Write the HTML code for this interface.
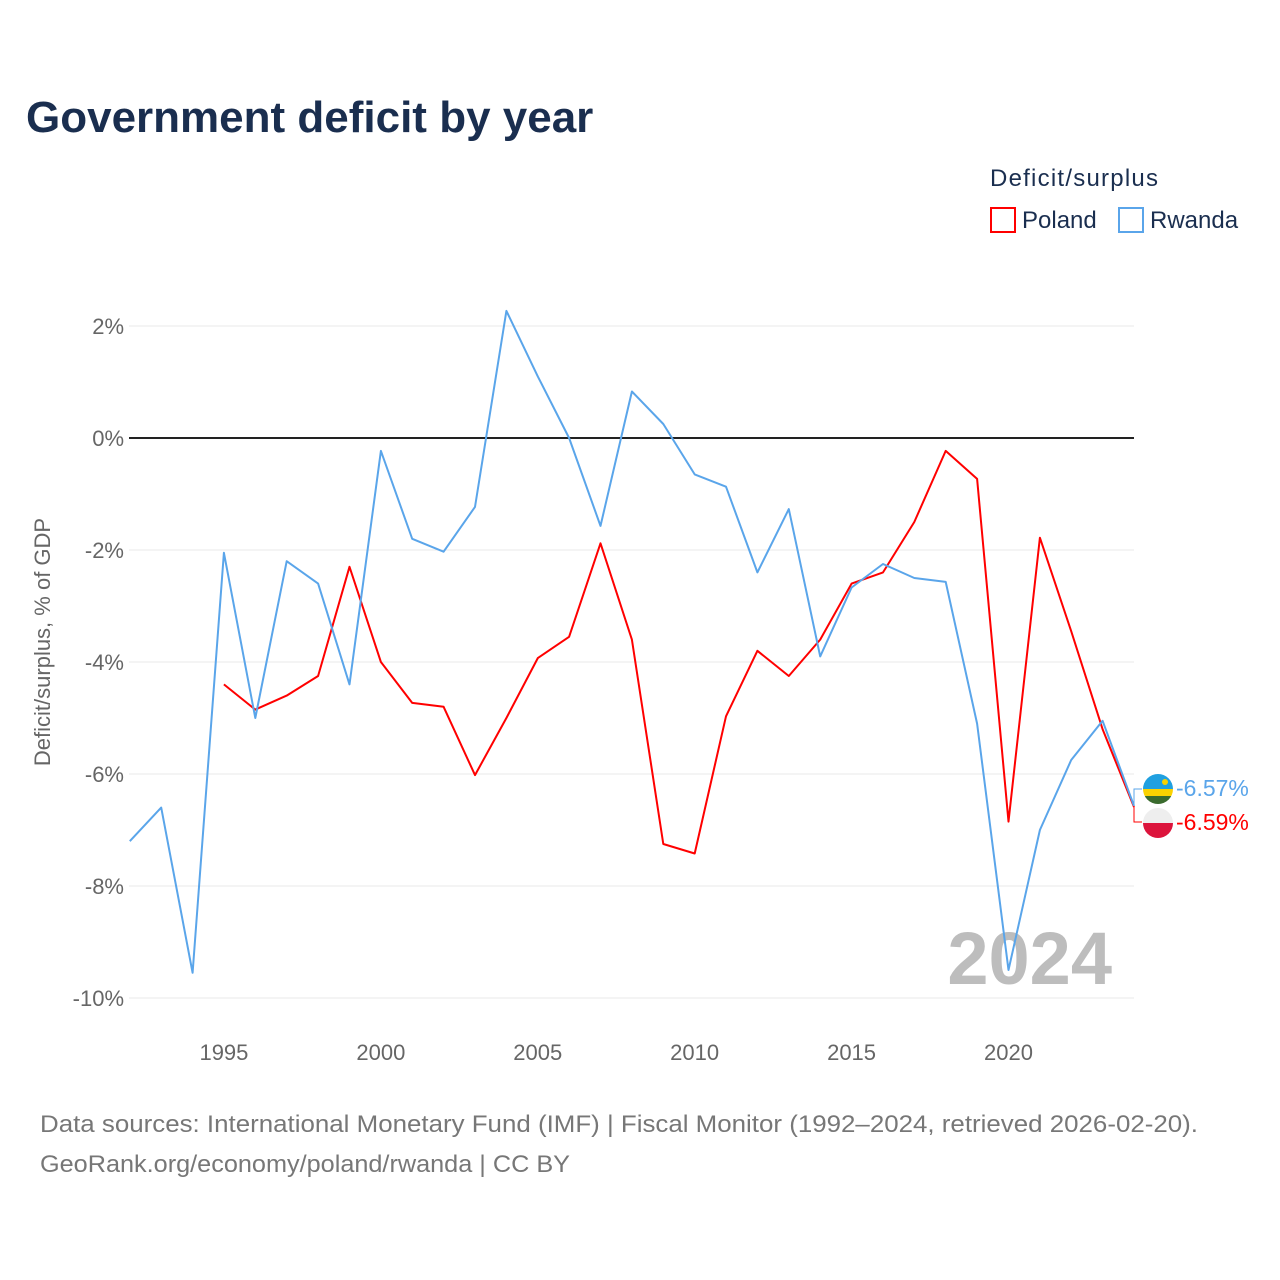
<!DOCTYPE html>
<html><head><meta charset="utf-8">
<style>
body{margin:0;background:#fff;font-family:"Liberation Sans",sans-serif;}
#wrap{position:relative;width:1280px;height:1280px;overflow:hidden;}
</style></head>
<body><div id="wrap">
<svg id="chart" width="1280" height="1280"></svg>
</div>
<script>
const years=[1992,1993,1994,1995,1996,1997,1998,1999,2000,2001,2002,2003,2004,2005,2006,2007,2008,2009,2010,2011,2012,2013,2014,2015,2016,2017,2018,2019,2020,2021,2022,2023,2024];
const rwanda=[-7.2,-6.6,-9.55,-2.05,-5.0,-2.2,-2.6,-4.4,-0.23,-1.8,-2.03,-1.23,2.27,1.1,0.0,-1.57,0.83,0.25,-0.65,-0.87,-2.4,-1.27,-3.9,-2.67,-2.25,-2.5,-2.57,-5.1,-9.5,-7.0,-5.75,-5.05,-6.57];
const poland=[null,null,null,-4.4,-4.85,-4.6,-4.25,-2.3,-4.0,-4.73,-4.8,-6.02,-5.0,-3.93,-3.55,-1.88,-3.6,-7.25,-7.42,-4.97,-3.8,-4.25,-3.6,-2.6,-2.4,-1.5,-0.23,-0.73,-6.85,-1.78,-3.45,-5.2,-6.59];
const yTicks=[2,0,-2,-4,-6,-8,-10];
const xTicks=[1995,2000,2005,2010,2015,2020];
const NS="http://www.w3.org/2000/svg";
const svg=document.getElementById('chart');
const xS=y=>129.8+(y-1992)*(1134-129.8)/32;
const yS=v=>438-v*56;
function mk(tag,attrs,parent){const e=document.createElementNS(NS,tag);for(const k in attrs)e.setAttribute(k,attrs[k]);(parent||svg).appendChild(e);return e;}
function txt(s,attrs){const t=mk('text',attrs);t.textContent=s;return t;}
let t;
t=txt('Government deficit by year',{x:26,y:132,'font-size':44,'font-weight':'bold',fill:'#1a2e4f'});

t=txt('Deficit/surplus',{x:990,y:186,'font-size':24,fill:'#1a2e4f',textLength:168});

let r=mk('rect',{x:991,y:208,width:24,height:24,fill:'none',stroke:'#ff0000','stroke-width':2});

t=txt('Poland',{x:1022,y:228,'font-size':24,fill:'#1a2e4f'});

r=mk('rect',{x:1119,y:208,width:24,height:24,fill:'none',stroke:'#5aa5ea','stroke-width':2});

t=txt('Rwanda',{x:1150,y:228,'font-size':24,fill:'#1a2e4f'});

yTicks.forEach(v=>{
  const g=mk('line',{x1:129,x2:1134,y1:yS(v),y2:yS(v),stroke:v===0?'#222':'#e8e8e8','stroke-width':v===0?2:1});
  
  const l=txt(v+'%',{x:124,y:yS(v)+8,'font-size':22,fill:'#666','text-anchor':'end'});
  
});
xTicks.forEach(v=>{
  const l=txt(String(v),{x:xS(v),y:1060,'font-size':22,fill:'#666','text-anchor':'middle'});
  
});
t=txt('Deficit/surplus, % of GDP',{x:0,y:0,'font-size':22,fill:'#666','text-anchor':'middle',transform:'translate(50,642) rotate(-90)'});

t=txt('2024',{x:1112,y:984,'font-size':74,'font-weight':'bold',fill:'#bdbdbd','text-anchor':'end'});

function path(vals,color,name){
  let d='';vals.forEach((v,i)=>{if(v===null)return;d+=(d?'L':'M')+xS(years[i]).toFixed(1)+','+yS(v).toFixed(1);});
  const p=mk('path',{d:d,fill:'none',stroke:color,'stroke-width':2,'stroke-linejoin':'round'});
  
}
path(poland,'#ff0000','poland-line');
path(rwanda,'#5aa5ea','rwanda-line');
const lastR=rwanda[rwanda.length-1],lastP=poland[poland.length-1];
mk('polyline',{points:`${xS(2024)},${yS(lastR)} 1134,789 1142,789`,fill:'none',stroke:'#5aa5ea','stroke-width':1});
mk('polyline',{points:`${xS(2024)},${yS(lastP)} 1134,822 1142,822`,fill:'none',stroke:'#ff0000','stroke-width':1});
let g=mk('g',{});
mk('clipPath',{id:'c1'},g);mk('circle',{cx:1158,cy:789,r:15},g.lastChild);
mk('rect',{x:1143,y:774,width:30,height:15,fill:'#20a0e0','clip-path':'url(#c1)'},g);
mk('rect',{x:1143,y:789,width:30,height:7,fill:'#fad201','clip-path':'url(#c1)'},g);
mk('rect',{x:1143,y:796,width:30,height:8,fill:'#3a6b2e','clip-path':'url(#c1)'},g);
mk('circle',{cx:1165,cy:782,r:3,fill:'#fad201'},g);
g=mk('g',{});
mk('clipPath',{id:'c2'},g);mk('circle',{cx:1158,cy:823,r:15},g.lastChild);
mk('rect',{x:1143,y:808,width:30,height:15,fill:'#eeeeee','clip-path':'url(#c2)'},g);
mk('rect',{x:1143,y:823,width:30,height:15,fill:'#dc143c','clip-path':'url(#c2)'},g);
t=txt(lastR.toFixed(2)+'%',{x:1176,y:796,'font-size':23,fill:'#5aa5ea'});

t=txt(lastP.toFixed(2)+'%',{x:1176,y:830,'font-size':23,fill:'#ff0000'});

t=txt('Data sources: International Monetary Fund (IMF) | Fiscal Monitor (1992–2024, retrieved 2026-02-20).',{x:40,y:1132,'font-size':24,fill:'#777',textLength:1158,lengthAdjust:'spacingAndGlyphs'});

t=txt('GeoRank.org/economy/poland/rwanda | CC BY',{x:40,y:1172,'font-size':24,fill:'#777',textLength:530,lengthAdjust:'spacingAndGlyphs'});

</script>
</body></html>
